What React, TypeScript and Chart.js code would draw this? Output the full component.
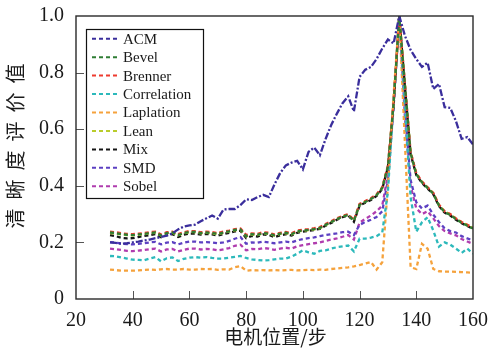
import { useEffect, useRef } from 'react';
import { Chart, registerables } from 'chart.js';
Chart.register(...registerables);

const positions = [32, 34, 36, 38, 40, 42, 44, 46, 48, 50, 52, 54, 56, 58, 60, 62, 64, 66, 68, 70, 72, 74, 76, 78, 80, 82, 84, 86, 88, 90, 92, 94, 96, 98, 100, 102, 104, 106, 108, 110, 112, 114, 116, 118, 120, 122, 124, 126, 128, 130, 132, 134, 136, 138, 140, 142, 144, 146, 148, 150, 152, 154, 156, 158, 160];

const acm = [0.200, 0.198, 0.195, 0.197, 0.200, 0.203, 0.207, 0.210, 0.215, 0.219, 0.224, 0.232, 0.246, 0.256, 0.260, 0.263, 0.275, 0.285, 0.295, 0.284, 0.316, 0.318, 0.318, 0.332, 0.352, 0.350, 0.360, 0.368, 0.360, 0.405, 0.445, 0.472, 0.482, 0.488, 0.458, 0.520, 0.535, 0.508, 0.565, 0.615, 0.655, 0.692, 0.716, 0.663, 0.785, 0.810, 0.820, 0.848, 0.885, 0.917, 0.903, 1.000, 0.930, 0.880, 0.848, 0.820, 0.835, 0.742, 0.760, 0.678, 0.675, 0.628, 0.566, 0.572, 0.546];
const bevel = [0.235, 0.233, 0.229, 0.227, 0.226, 0.228, 0.230, 0.233, 0.235, 0.225, 0.233, 0.235, 0.226, 0.233, 0.237, 0.237, 0.233, 0.235, 0.233, 0.230, 0.235, 0.239, 0.244, 0.246, 0.222, 0.229, 0.227, 0.233, 0.231, 0.225, 0.231, 0.234, 0.229, 0.239, 0.242, 0.244, 0.247, 0.251, 0.262, 0.272, 0.282, 0.291, 0.297, 0.276, 0.333, 0.343, 0.353, 0.367, 0.392, 0.468, 0.690, 1.000, 0.755, 0.515, 0.441, 0.412, 0.392, 0.372, 0.330, 0.307, 0.297, 0.282, 0.269, 0.259, 0.249];
const brenner = [0.238, 0.236, 0.232, 0.230, 0.229, 0.231, 0.233, 0.236, 0.238, 0.228, 0.236, 0.238, 0.229, 0.236, 0.240, 0.240, 0.236, 0.238, 0.236, 0.233, 0.238, 0.242, 0.247, 0.249, 0.226, 0.232, 0.230, 0.236, 0.234, 0.228, 0.234, 0.237, 0.232, 0.242, 0.245, 0.247, 0.250, 0.254, 0.265, 0.275, 0.285, 0.294, 0.300, 0.279, 0.336, 0.346, 0.356, 0.370, 0.395, 0.472, 0.695, 1.000, 0.760, 0.520, 0.445, 0.415, 0.395, 0.375, 0.333, 0.310, 0.300, 0.285, 0.272, 0.262, 0.252];
const correlation = [0.152, 0.151, 0.147, 0.143, 0.139, 0.138, 0.137, 0.143, 0.148, 0.133, 0.144, 0.147, 0.134, 0.142, 0.146, 0.148, 0.146, 0.148, 0.145, 0.143, 0.143, 0.146, 0.149, 0.152, 0.145, 0.140, 0.138, 0.136, 0.137, 0.140, 0.143, 0.143, 0.150, 0.160, 0.172, 0.165, 0.160, 0.170, 0.172, 0.178, 0.183, 0.186, 0.189, 0.168, 0.213, 0.213, 0.217, 0.222, 0.235, 0.380, 0.700, 1.000, 0.680, 0.360, 0.238, 0.271, 0.289, 0.242, 0.185, 0.200, 0.192, 0.178, 0.163, 0.178, 0.160];
const laplation = [0.104, 0.102, 0.100, 0.100, 0.100, 0.101, 0.103, 0.104, 0.103, 0.105, 0.106, 0.104, 0.104, 0.106, 0.104, 0.104, 0.106, 0.105, 0.106, 0.103, 0.105, 0.104, 0.112, 0.116, 0.100, 0.102, 0.101, 0.102, 0.101, 0.102, 0.101, 0.102, 0.103, 0.101, 0.102, 0.103, 0.102, 0.104, 0.103, 0.106, 0.108, 0.110, 0.112, 0.115, 0.120, 0.125, 0.131, 0.104, 0.130, 0.400, 0.720, 1.000, 0.550, 0.112, 0.106, 0.195, 0.178, 0.106, 0.098, 0.097, 0.097, 0.096, 0.095, 0.094, 0.093];
const lean = [0.233, 0.231, 0.228, 0.226, 0.225, 0.227, 0.229, 0.232, 0.234, 0.224, 0.232, 0.234, 0.225, 0.232, 0.236, 0.236, 0.232, 0.234, 0.232, 0.229, 0.234, 0.238, 0.243, 0.245, 0.221, 0.228, 0.226, 0.232, 0.230, 0.224, 0.230, 0.233, 0.228, 0.238, 0.241, 0.243, 0.246, 0.250, 0.261, 0.272, 0.283, 0.292, 0.298, 0.277, 0.334, 0.344, 0.354, 0.368, 0.393, 0.470, 0.690, 1.000, 0.757, 0.518, 0.443, 0.414, 0.394, 0.374, 0.332, 0.309, 0.299, 0.284, 0.271, 0.261, 0.251];
const mix = [0.226, 0.222, 0.216, 0.214, 0.215, 0.219, 0.223, 0.226, 0.229, 0.218, 0.226, 0.229, 0.219, 0.227, 0.231, 0.231, 0.228, 0.230, 0.228, 0.224, 0.229, 0.234, 0.239, 0.241, 0.215, 0.223, 0.221, 0.228, 0.226, 0.219, 0.225, 0.229, 0.224, 0.234, 0.238, 0.241, 0.244, 0.248, 0.259, 0.269, 0.280, 0.289, 0.295, 0.273, 0.330, 0.340, 0.350, 0.364, 0.389, 0.465, 0.685, 1.000, 0.750, 0.512, 0.438, 0.410, 0.390, 0.370, 0.328, 0.305, 0.295, 0.280, 0.268, 0.258, 0.248];
const smd = [0.201, 0.199, 0.196, 0.194, 0.193, 0.195, 0.197, 0.200, 0.202, 0.193, 0.199, 0.201, 0.193, 0.199, 0.203, 0.203, 0.200, 0.201, 0.200, 0.197, 0.200, 0.205, 0.213, 0.219, 0.195, 0.200, 0.199, 0.203, 0.200, 0.197, 0.200, 0.203, 0.200, 0.207, 0.212, 0.215, 0.218, 0.222, 0.226, 0.229, 0.232, 0.236, 0.238, 0.226, 0.262, 0.272, 0.280, 0.290, 0.310, 0.420, 0.680, 1.000, 0.660, 0.420, 0.342, 0.320, 0.330, 0.298, 0.272, 0.250, 0.240, 0.235, 0.222, 0.214, 0.207];
const sobel = [0.178, 0.176, 0.173, 0.170, 0.169, 0.171, 0.173, 0.176, 0.178, 0.168, 0.175, 0.177, 0.168, 0.174, 0.178, 0.178, 0.175, 0.177, 0.176, 0.172, 0.175, 0.180, 0.188, 0.192, 0.172, 0.177, 0.176, 0.180, 0.178, 0.174, 0.178, 0.181, 0.178, 0.186, 0.190, 0.194, 0.197, 0.200, 0.205, 0.210, 0.214, 0.220, 0.226, 0.210, 0.270, 0.283, 0.295, 0.310, 0.330, 0.440, 0.690, 1.000, 0.640, 0.400, 0.320, 0.300, 0.310, 0.285, 0.258, 0.240, 0.232, 0.225, 0.212, 0.203, 0.195];

const seriesNames = ['ACM', 'Bevel', 'Brenner', 'Correlation', 'Laplation', 'Lean', 'Mix', 'SMD', 'Sobel'];
const seriesValues = [acm, bevel, brenner, correlation, laplation, lean, mix, smd, sobel];
const seriesColors = ['#3a2e9c', '#2f7d34', '#ee3b2f', '#2cb9bb', '#f5a23c', '#b9cc2c', '#151515', '#5c40c2', '#b03cae'];
const seriesDashes = [[7, 2, 2, 2], [4, 3], [4, 3], [4, 3], [4, 3], [4, 3], [4, 3], [4, 3], [4, 3]];

const xTickValues = [20, 40, 60, 80, 100, 120, 140, 160];
const yTickValues = [0, 0.2, 0.4, 0.6, 0.8, 1.0];
const xTitle = '电机位置/步';
const yTitle = '清晰度评价值';

const SERIF = "'Liberation Serif', 'DejaVu Serif', serif";
const CJK = "'Noto Sans CJK SC', sans-serif";

const framePlugin = {
  id: 'frameTicks',
  afterDatasetsDraw(chart: any) {
    const { ctx, chartArea: a, scales } = chart;
    ctx.save();
    ctx.strokeStyle = '#555';
    ctx.lineWidth = 1;
    xTickValues.forEach((v) => {
      if (v === xTickValues[0] || v === xTickValues[xTickValues.length - 1]) return;
      const px = Math.round(scales.x.getPixelForValue(v)) + 0.5;
      ctx.beginPath();
      ctx.moveTo(px, a.bottom);
      ctx.lineTo(px, a.bottom - 8);
      ctx.stroke();
    });
    yTickValues.forEach((v) => {
      if (v === yTickValues[0] || v === yTickValues[yTickValues.length - 1]) return;
      const py = Math.round(scales.y.getPixelForValue(v)) + 0.5;
      ctx.beginPath();
      ctx.moveTo(a.left, py);
      ctx.lineTo(a.left + 8, py);
      ctx.stroke();
    });
    ctx.strokeStyle = '#2a2a2a';
    ctx.lineWidth = 1.4;
    ctx.strokeRect(a.left, a.top, a.right - a.left, a.bottom - a.top);
    ctx.restore();
  },
};

const legendPlugin = {
  id: 'boxLegend',
  afterDraw(chart: any) {
    const { ctx, chartArea: a } = chart;
    const left = a.left + 10;
    const top = a.top + 13;
    const w = 117;
    const h = 169;
    const rowH = 18.45;
    ctx.save();
    ctx.fillStyle = '#ffffff';
    ctx.fillRect(left, top, w, h);
    ctx.strokeStyle = '#111';
    ctx.lineWidth = 1.2;
    ctx.strokeRect(left + 0.5, top + 0.5, w, h);
    ctx.font = `15px ${SERIF}`;
    ctx.textBaseline = 'middle';
    ctx.textAlign = 'left';
    chart.data.datasets.forEach((ds: any, i: number) => {
      const y = top + 9.7 + i * rowH;
      ctx.strokeStyle = ds.borderColor;
      ctx.lineWidth = 2;
      ctx.setLineDash([4, 3]);
      ctx.beginPath();
      ctx.moveTo(left + 6, y);
      ctx.lineTo(left + 33, y);
      ctx.stroke();
      ctx.setLineDash([]);
      ctx.fillStyle = '#1a1a1a';
      ctx.fillText(ds.label, left + 37, y + 1);
    });
    ctx.restore();
  },
};

const titlesPlugin = {
  id: 'axisTitles',
  afterDraw(chart: any) {
    const { ctx, chartArea: a } = chart;
    ctx.save();
    ctx.fillStyle = '#1a1a1a';
    ctx.font = `19px ${CJK}`;
    ctx.textAlign = 'center';
    ctx.textBaseline = 'middle';
    ctx.fillText(xTitle, (a.left + a.right) / 2 + 1, 337);
    ctx.font = `20px ${CJK}`;
    ctx.translate(15, 146);
    ctx.rotate(-Math.PI / 2);
    try { (ctx as any).letterSpacing = '9px'; } catch (e) {}
    const wdt = ctx.measureText(yTitle).width;
    ctx.textAlign = 'left';
    ctx.fillText(yTitle, -wdt / 2 + 4.5, 0);
    ctx.restore();
  },
};

export default function App() {
  const ref = useRef<HTMLCanvasElement | null>(null);
  useEffect(() => {
    if (!ref.current) return;
    const chart = new Chart(ref.current, {
      type: 'line',
      data: {
        datasets: seriesNames.map((name, i) => ({
          label: name,
          data: positions.map((x, j) => ({ x, y: seriesValues[i][j] })),
          borderColor: seriesColors[i],
          backgroundColor: seriesColors[i],
          borderWidth: 2.3,
          borderDash: seriesDashes[i],
          pointRadius: 0,
          tension: 0,
          fill: false,
        })),
      },
      options: {
        animation: false,
        responsive: false,
        devicePixelRatio: 1,
        layout: { padding: { top: 13, right: 14, left: 0, bottom: 0 } },
        plugins: { legend: { display: false }, tooltip: { enabled: false } },
        scales: {
          x: {
            type: 'linear',
            min: 20,
            max: 160,
            afterFit: (s: any) => { s.height = 49; },
            afterBuildTicks: (s: any) => { s.ticks = xTickValues.map((v) => ({ value: v })); },
            grid: { display: false },
            border: { display: false },
            ticks: { font: { family: SERIF, size: 20 }, color: '#1a1a1a', padding: 2, maxRotation: 0 },
          },
          y: {
            type: 'linear',
            min: 0,
            max: 1,
            afterFit: (s: any) => { s.width = 76; },
            afterBuildTicks: (s: any) => { s.ticks = yTickValues.map((v) => ({ value: v })); },
            grid: { display: false },
            border: { display: false },
            ticks: {
              font: { family: SERIF, size: 20 },
              color: '#1a1a1a',
              padding: 4,
              callback: (v: any) => (Number(v) === 0 ? '0' : Number(v).toFixed(1)),
            },
          },
        },
      },
      plugins: [framePlugin, legendPlugin, titlesPlugin],
    });
    return () => chart.destroy();
  }, []);
  return (
    <div style={{ position: 'fixed', left: 0, top: 0, width: 490, height: 348, background: '#fff' }}>
      <canvas ref={ref} width={490} height={348} />
    </div>
  );
}
